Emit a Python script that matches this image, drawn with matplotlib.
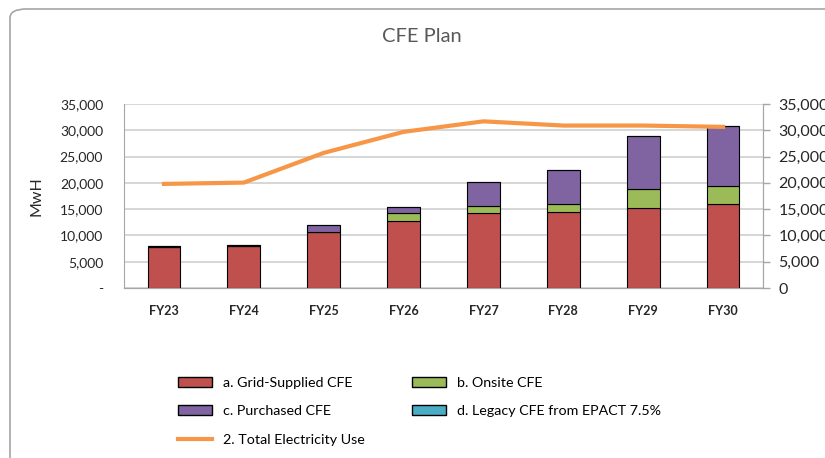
import matplotlib.pyplot as plt
import numpy as np
from matplotlib.patches import FancyBboxPatch, Patch
from matplotlib.lines import Line2D
from matplotlib.ticker import FuncFormatter, MultipleLocator

plt.rcParams['font.family'] = ['Lato', 'DejaVu Sans']

#%% Data (MWh)

years = ['FY23', 'FY24', 'FY25', 'FY26', 'FY27', 'FY28', 'FY29', 'FY30']
grid_cfe = [7850, 7950, 10600, 12800, 14200, 14400, 15300, 16050]
onsite_cfe = [0, 0, 0, 1400, 1450, 1500, 3500, 3400]
purchased_cfe = [150, 200, 1400, 1300, 4450, 6550, 10200, 11350]
legacy_cfe = [0, 0, 0, 0, 0, 0, 0, 0]
total_use = [19800, 20050, 25700, 29700, 31700, 30900, 30900, 30650]

#%% Figure

fig = plt.figure(figsize=(8.25, 4.58), dpi=100)

# chart frame, runs off the right edge like the screenshot
frame = FancyBboxPatch((10 / 825, -10 / 458), 1.2, 1 + 1 / 458,
                       boxstyle='round,pad=0,rounding_size=0.02',
                       transform=fig.transFigure, facecolor='none',
                       edgecolor='#a6a6a6', lw=1.2, clip_on=False)
fig.patches.append(frame)

ax = fig.add_axes([124 / 825, 1 - 288 / 458, (763 - 124) / 825, (288 - 104) / 458])

x = np.arange(len(years))
w = 0.41
red, green, purple, teal, orange = '#c0504d', '#9bbb59', '#8064a2', '#4bacc6', '#f79646'

b1 = np.array(grid_cfe)
b2 = b1 + np.array(onsite_cfe)
b3 = b2 + np.array(purchased_cfe)
ax.bar(x, grid_cfe, w, color=red, edgecolor='black', lw=0.8, zorder=3)
ax.bar(x, onsite_cfe, w, bottom=b1, color=green, edgecolor='black', lw=0.8, zorder=3)
ax.bar(x, purchased_cfe, w, bottom=b2, color=purple, edgecolor='black', lw=0.8, zorder=3)
ax.bar(x, legacy_cfe, w, bottom=b3, color=teal, edgecolor='black', lw=0.8, zorder=3)

ax2 = ax.twinx()
ax2.plot(x, total_use, color=orange, lw=3, zorder=4)

for a in (ax, ax2):
    a.set_ylim(0, 35000)
    a.yaxis.set_major_locator(MultipleLocator(5000))
ax.set_xlim(-0.5, 7.5)

ax.yaxis.grid(True, color='#d0d0d0', lw=1.2, zorder=0)
ax.set_axisbelow(True)

ax.yaxis.set_major_formatter(FuncFormatter(lambda v, p: '-' if v == 0 else f'{v:,.0f}'))
ax2.yaxis.set_major_formatter(FuncFormatter(lambda v, p: f'{v:,.0f}'))

ax.set_xticks(x)
ax.set_xticklabels(years, fontsize=9, fontweight='bold', color='#262626')
ax.tick_params(axis='x', length=0, pad=12)
ax.tick_params(axis='y', length=0, labelsize=10, colors='#262626', pad=15)
ax2.tick_params(axis='y', length=5, labelsize=11.5, colors='#262626', width=1, direction='out', pad=6)
ax2.tick_params(axis='y', color='#a6a6a6')

for a in (ax, ax2):
    for s in a.spines.values():
        s.set_color('#a6a6a6')
    a.spines['top'].set_visible(False)
ax2.spines['left'].set_visible(False)

ax.set_ylabel('MwH', fontsize=11.5, color='#262626')
ax.yaxis.set_label_coords(-124 / 639 + 43 / 639, 0.5)

fig.text(422 / 825, 1 - 37 / 458, 'CFE Plan', ha='center', va='center',
         fontsize=14.5, color='#595959')

handles = [
    Patch(facecolor=red, edgecolor='black', label='a. Grid-Supplied CFE'),
    Patch(facecolor=purple, edgecolor='black', label='c. Purchased CFE'),
    Line2D([0], [0], color=orange, lw=3, label='2. Total Electricity Use'),
    Patch(facecolor=green, edgecolor='black', label='b. Onsite CFE'),
    Patch(facecolor=teal, edgecolor='black', label='d. Legacy CFE from EPACT 7.5%'),
]
fig.legend(handles=handles, ncol=2, loc='upper left', bbox_to_anchor=(165 / 825, 1 - 364 / 458),
           frameon=False, fontsize=10.3, handlelength=2.4, handleheight=0.7,
           columnspacing=3.3, labelspacing=1.15, handletextpad=0.75)

plt.savefig('out.png', dpi=100)
